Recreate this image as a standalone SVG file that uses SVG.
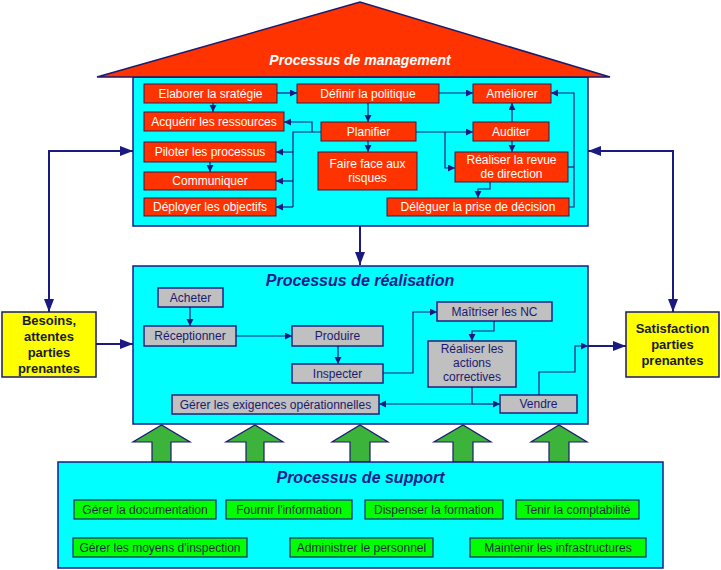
<svg xmlns="http://www.w3.org/2000/svg" width="721" height="570" viewBox="0 0 721 570">
<style>
text{font-family:"Liberation Sans",Arial,sans-serif;text-anchor:middle}
.red{fill:#FF3300;stroke:#3a1a4a;stroke-width:1}
.gray{fill:#C0C0C0;stroke:#1a237e;stroke-width:1.5}
.grn{fill:#00FF00;stroke:#1a237e;stroke-width:1.2}
.cyan{fill:#00FFFF;stroke:#1a1a8c;stroke-width:1.5}
.yel{fill:#FFFF00;stroke:#1a1a6e;stroke-width:1.5}
.bigarrow{fill:#3CB43C;stroke:#1a1a6e;stroke-width:1.2}
.rt{fill:#fff;font-size:12px}
.gt{fill:#1a1a6e;font-size:12px}
.gnt{fill:#1c2c3c;font-size:12px}
.yt{fill:#1a1a2e;font-size:13px;font-weight:bold}
.ttl{fill:#1a1a8c;font-size:16px;font-weight:bold;font-style:italic}
.c{fill:none;stroke:#1a1a80;stroke-width:1.2}
.cb{fill:none;stroke:#1a1a80;stroke-width:2}
.cs{marker-end:url(#ms)}
.cbig{marker-end:url(#mb)}
</style>
<defs>
<marker id="ms" markerUnits="userSpaceOnUse" markerWidth="8" markerHeight="8" refX="7" refY="3.5" orient="auto"><path d="M0,0 L7,3.5 L0,7 z" fill="#1a1a80"/></marker>
<marker id="mb" markerUnits="userSpaceOnUse" markerWidth="14" markerHeight="12" refX="13" refY="5" orient="auto-start-reverse"><path d="M0,0 L13,5 L0,10 z" fill="#1a1a80"/></marker>
</defs>

<!-- management -->
<g id="management">
<rect class="cyan" x="133" y="77" width="455" height="149"/>
<polygon points="97,77 360,2 610,77" fill="#FF3300" stroke="#1a1a6e" stroke-width="1.5"/>
<text x="360" y="65" fill="#fff" font-size="14" font-weight="bold" font-style="italic">Processus de management</text>
</g>
<g id="elaborer"><rect class="red" x="144" y="84" width="133" height="19"/><text class="rt" x="210.5" y="98">Elaborer la sratégie</text></g>
<g id="definir"><rect class="red" x="297" y="84" width="142" height="19"/><text class="rt" x="368" y="98">Définir la politique</text></g>
<g id="ameliorer"><rect class="red" x="473" y="84" width="78" height="19"/><text class="rt" x="512" y="98">Améliorer</text></g>
<g id="acquerir"><rect class="red" x="144" y="112" width="140" height="19"/><text class="rt" x="214" y="126">Acquérir les ressources</text></g>
<g id="planifier"><rect class="red" x="321" y="122" width="95" height="19"/><text class="rt" x="368.5" y="136">Planifier</text></g>
<g id="auditer"><rect class="red" x="473" y="122" width="76" height="19"/><text class="rt" x="511" y="136">Auditer</text></g>
<g id="piloter"><rect class="red" x="144" y="142" width="132" height="20"/><text class="rt" x="210" y="156">Piloter les processus</text></g>
<g id="risques"><rect class="red" x="318" y="152" width="99" height="38"/><text class="rt" x="367.5" y="168">Faire face aux</text><text class="rt" x="367.5" y="182">risques</text></g>
<g id="revue"><rect class="red" x="455" y="152" width="113" height="30"/><text class="rt" x="511.5" y="164">Réaliser la revue</text><text class="rt" x="511.5" y="178">de direction</text></g>
<g id="communiquer"><rect class="red" x="144" y="172" width="132" height="18"/><text class="rt" x="210" y="185">Communiquer</text></g>
<g id="deployer"><rect class="red" x="144" y="198" width="132" height="18"/><text class="rt" x="210" y="211">Déployer les objectifs</text></g>
<g id="deleguer"><rect class="red" x="387" y="198" width="182" height="18"/><text class="rt" x="478" y="211">Déléguer la prise de décision</text></g>

<!-- realisation -->
<g id="realisation">
<rect class="cyan" x="133" y="266" width="455" height="158"/>
<text class="ttl" x="360" y="286">Processus de réalisation</text>
</g>
<g id="acheter"><rect class="gray" x="158" y="288" width="65" height="19"/><text class="gt" x="190.5" y="302">Acheter</text></g>
<g id="receptionner"><rect class="gray" x="144" y="326" width="92" height="20"/><text class="gt" x="190" y="340">Réceptionner</text></g>
<g id="produire"><rect class="gray" x="292" y="326" width="91" height="20"/><text class="gt" x="337.5" y="340">Produire</text></g>
<g id="inspecter"><rect class="gray" x="292" y="364" width="91" height="19"/><text class="gt" x="337.5" y="378">Inspecter</text></g>
<g id="exigences"><rect class="gray" x="172" y="395" width="207" height="19"/><text class="gt" x="275.5" y="409">Gérer les exigences opérationnelles</text></g>
<g id="maitriser"><rect class="gray" x="437" y="302" width="115" height="19"/><text class="gt" x="494.5" y="316">Maîtriser les NC</text></g>
<g id="correctives"><rect class="gray" x="428" y="341" width="88" height="46"/><text class="gt" x="472" y="353">Réaliser les</text><text class="gt" x="472" y="367">actions</text><text class="gt" x="472" y="381">correctives</text></g>
<g id="vendre"><rect class="gray" x="500" y="395" width="77" height="18"/><text class="gt" x="538.5" y="408">Vendre</text></g>

<!-- side boxes -->
<g id="besoins"><rect class="yel" x="2" y="312" width="94" height="65"/><text class="yt" x="49" y="325">Besoins,</text><text class="yt" x="49" y="341">attentes</text><text class="yt" x="49" y="357">parties</text><text class="yt" x="49" y="373">prenantes</text></g>
<g id="satisfaction"><rect class="yel" x="626" y="312" width="93" height="65"/><text class="yt" x="672.5" y="333">Satisfaction</text><text class="yt" x="672.5" y="349">parties</text><text class="yt" x="672.5" y="365">prenantes</text></g>

<!-- support arrows -->
<g id="support-arrows">
<polygon class="bigarrow" points="152,462 152,442 133,442 161.5,425 190,442 171,442 171,462"/>
<polygon class="bigarrow" points="246,462 246,442 226,442 255,425 283,442 264,442 264,462"/>
<polygon class="bigarrow" points="350,462 350,442 332,442 360,425 388,442 370,442 370,462"/>
<polygon class="bigarrow" points="453,462 453,442 434,442 463,425 491,442 473,442 473,462"/>
<polygon class="bigarrow" points="549,462 549,442 531,442 559,425 587,442 569,442 569,462"/>
</g>

<!-- support -->
<g id="support">
<rect class="cyan" x="58" y="462" width="605" height="106"/>
<text class="ttl" x="360.5" y="483">Processus de support</text>
</g>
<g id="documentation"><rect class="grn" x="74" y="500" width="142" height="19"/><text class="gnt" x="145" y="514">Gérer la documentation</text></g>
<g id="information"><rect class="grn" x="226" y="500" width="126" height="19"/><text class="gnt" x="289" y="514">Fournir l'information</text></g>
<g id="formation"><rect class="grn" x="365" y="500" width="138" height="19"/><text class="gnt" x="434" y="514">Dispenser la formation</text></g>
<g id="comptabilite"><rect class="grn" x="516" y="500" width="123" height="19"/><text class="gnt" x="577.5" y="514">Tenir la comptabilité</text></g>
<g id="moyens"><rect class="grn" x="73" y="538" width="174" height="19"/><text class="gnt" x="160" y="552">Gérer les moyens d'inspection</text></g>
<g id="personnel"><rect class="grn" x="290" y="538" width="143" height="19"/><text class="gnt" x="361.5" y="552">Administrer le personnel</text></g>
<g id="infrastructures"><rect class="grn" x="470" y="538" width="176" height="19"/><text class="gnt" x="558" y="552">Maintenir les infrastructures</text></g>

<!-- connectors -->
<g id="connectors">
<path class="c cs" d="M277,93 H297"/>
<path class="c cs" d="M213,103 V112"/>
<path class="c cs" d="M368,103 V122"/>
<path class="c cs" d="M439,93 H473"/>
<path class="c cs" d="M312,132 V122 H284"/>
<path class="c" d="M321,132 H293 V207"/>
<path class="c cs" d="M293,152 H276"/>
<path class="c cs" d="M293,181 H276"/>
<path class="c cs" d="M293,207 H276"/>
<path class="c cs" d="M210,162 V172"/>
<path class="c cs" d="M368,141 V152"/>
<path class="c cs" d="M416,132 H473"/>
<path class="c cs" d="M445,132 V168 H455"/>
<path class="c cs" d="M512,122 V103"/>
<path class="c cs" d="M512,141 V152"/>
<path class="c cs" d="M490,182 V189 H478 V198"/>
<path class="c cs" d="M569,207 H574 V93 H551"/>
<path class="c" d="M568,167 H574"/>
<path class="cb cbig" style="marker-start:url(#mb)" d="M49,312 V151 H133"/>
<path class="cb cbig" style="marker-start:url(#mb)" d="M588,151 H673 V312"/>
<path class="cb cbig" d="M360,226 V265"/>
<path class="cb cbig" d="M96,344 H133"/>
<path class="c cs" d="M190,307 V326"/>
<path class="c cs" d="M236,336 H292"/>
<path class="c cs" d="M338,346 V364"/>
<path class="c cs" d="M383,373 H413 V312 H437"/>
<path class="c cs" d="M494,321 V331 H472 V341"/>
<path class="c" d="M472,387 V404"/>
<path class="c cs" d="M472,404 H379"/>
<path class="c cs" d="M472,404 H500"/>
<path class="c cs" d="M539,395 V372 H575 V346 H588"/>
<path class="cb cbig" d="M588,346 H626"/>
</g>
</svg>
